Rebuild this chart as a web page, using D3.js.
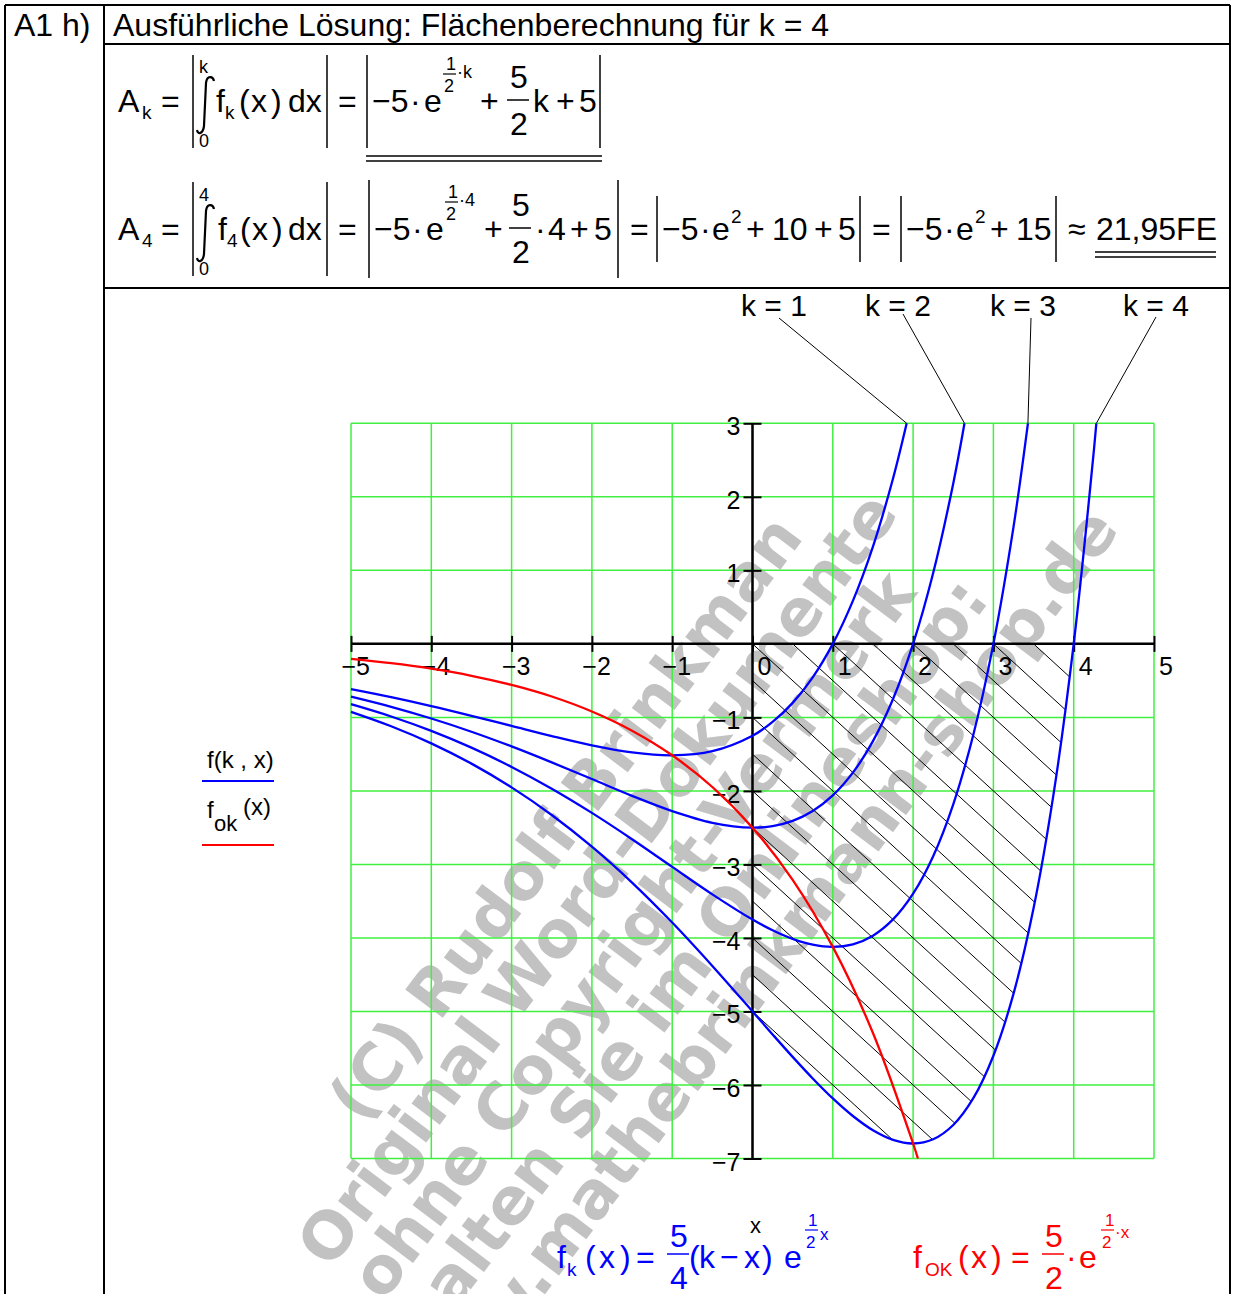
<!DOCTYPE html>
<html lang="de">
<head>
  <meta charset="UTF-8">
  <title>A1 h) Flächenberechnung für k = 4</title>
  <script src="https://d3js.org/d3.v7.min.js"></script>
  <style>
    body { margin: 0; background: #fff; }
    svg text { font-family: "Liberation Sans", Arial, sans-serif; }
  </style>
</head>
<body>
  <svg id="sheet" width="1234" height="1294"></svg>

  <script>
    // points [x, y], one list per curve
    const curveK1 = [[-5, -0.616], [-4.5, -0.725], [-4, -0.846], [-3.5, -0.978], [-3, -1.116], [-2.5, -1.254],
      [-2, -1.380], [-1.5, -1.476], [-1, -1.516], [-0.5, -1.460], [0, -1.25], [0.25, -1.062], [0.5, -0.803],
      [0.75, -0.455], [1, 0], [1.25, 0.584], [1.5, 1.323], [1.75, 2.249], [1.92, 3]];
    const curveK2 = [[-5, -0.718], [-4.5, -0.856], [-4, -1.015], [-3.5, -1.195], [-3, -1.395], [-2.5, -1.612],
      [-2, -1.839], [-1.5, -2.067], [-1, -2.275], [-0.5, -2.434], [0, -2.5], [0.25, -2.479], [0.5, -2.408],
      [0.75, -2.273], [1, -2.061], [1.25, -1.752], [1.5, -1.323], [1.75, -0.750], [2, 0], [2.25, 0.963],
      [2.5, 2.182], [2.64, 3]];
    const curveK3 = [[-5, -0.821], [-4.5, -0.988], [-4, -1.184], [-3.5, -1.412], [-3, -1.674], [-2.5, -1.970],
      [-2, -2.299], [-1.5, -2.657], [-1, -3.033], [-0.5, -3.407], [0, -3.75], [0.25, -3.895], [0.5, -4.013],
      [0.75, -4.092], [1, -4.122], [1.25, -4.087], [1.5, -3.969], [1.75, -3.748], [2, -3.398], [2.25, -2.888],
      [2.5, -2.182], [2.75, -1.236], [3, 0], [3.25, 1.587], [3.43, 3]];
    const curveK4 = [[-5, -0.924], [-4.5, -1.120], [-4, -1.353], [-3.5, -1.629], [-3, -1.952], [-2.5, -2.328],
      [-2, -2.759], [-1.5, -3.247], [-1, -3.791], [-0.5, -4.381], [0, -5], [0.25, -5.312], [0.5, -5.618],
      [0.75, -5.911], [1, -6.183], [1.25, -6.422], [1.5, -6.616], [1.75, -6.747], [2, -6.796], [2.25, -6.738],
      [2.5, -6.544], [2.75, -6.180], [3, -5.602], [3.25, -4.761], [3.5, -3.597], [3.75, -2.038], [4, 0],
      [4.25, 2.617], [4.282, 3]];
    const curveOK = [[-5, -0.205], [-4.5, -0.263], [-4, -0.338], [-3.5, -0.434], [-3, -0.558], [-2.5, -0.716],
      [-2, -0.920], [-1.5, -1.181], [-1, -1.516], [-0.5, -1.947], [0, -2.5], [0.5, -3.210], [1, -4.122],
      [1.5, -5.293], [2, -6.796], [2.06, -7]];

    // hatch lines x + y = s inside the area for k = 4
    const hatchSums = [3.5, 3, 2.5, 2, 1.5, 1, 0.5, 0, -0.5, -1, -1.5, -2, -2.5, -3, -3.5, -4, -4.5, -5];

    const xTicks = [-5, -4, -3, -2, -1, 0, 1, 2, 3, 4, 5];
    const yTicks = [3, 2, 1, 0, -1, -2, -3, -4, -5, -6, -7];
    const kNames = ['k = 1', 'k = 2', 'k = 3', 'k = 4'];
    const watermarkLines = ['(C) Rudolf Brinkman', 'Original Word-Dokumente', 'ohne Copyright-Vermerk',
      'erhalten Sie im Onlineshop:', 'www.mathebrinkmann-shop.de'];

    const svg = d3.select('svg#sheet');

    //scales of the plot
    const x = d3.scaleLinear().domain([-5, 5]).range([351, 1154]);
    const y = d3.scaleLinear().domain([-7, 3]).range([1158.5, 423.3]);

    //watermark sits behind everything
    const wm = svg.append('g').attr('id', 'watermark').attr('transform', 'rotate(-53)');
    const wmEnd = [55, 131, 79, 117, 251];
    const wmBase = [966, 1028, 1090, 1152, 1214];
    wm.selectAll('text').data(watermarkLines).join('text')
      .attr('x', (d, i) => wmEnd[i])
      .attr('y', (d, i) => wmBase[i])
      .attr('text-anchor', 'end')
      .style('font-family', '"DejaVu Sans", sans-serif')
      .style('font-weight', 'bold')
      .attr('font-size', 64.5)
      .attr('fill', '#c2c2c2')
      .text(d => d);

    //table frame
    const frame = svg.append('g').attr('id', 'frame').attr('stroke', '#000').attr('stroke-width', 2);
    frame.append('line').attr('x1', 5).attr('x2', 5).attr('y1', 5).attr('y2', 1294);
    frame.append('line').attr('x1', 1230).attr('x2', 1230).attr('y1', 5).attr('y2', 1294);
    frame.append('line').attr('x1', 5).attr('x2', 1230).attr('y1', 5).attr('y2', 5);
    frame.append('line').attr('x1', 104).attr('x2', 104).attr('y1', 5).attr('y2', 1294);
    frame.append('line').attr('x1', 104).attr('x2', 1230).attr('y1', 44).attr('y2', 44);
    frame.append('line').attr('x1', 104).attr('x2', 1230).attr('y1', 288).attr('y2', 288);

    svg.append('text').attr('x', 14).attr('y', 36).attr('font-size', 32).text('A1 h)');
    svg.append('text').attr('x', 113).attr('y', 36).attr('font-size', 32)
      .text('Ausführliche Lösung: Flächenberechnung für k = 4');

    //formula helpers
    function put(g, items, color) {
      g.selectAll(null).data(items).join('text')
        .attr('x', d => d[0]).attr('y', d => d[1])
        .attr('font-size', d => d[3] || 32)
        .attr('fill', color)
        .text(d => d[2]);
    }
    function rule(g, x1, y1, x2, y2, w, color) {
      g.append('line').attr('x1', x1).attr('y1', y1).attr('x2', x2).attr('y2', y2)
        .attr('stroke', color || '#000').attr('stroke-width', w || 1.5);
    }
    function integral(g, dy) {
      g.append('path')
        .attr('d', 'M214,' + (81 + dy) + ' C213,' + (76 + dy) + ' 207,' + (75 + dy) + ' 206,' + (83 + dy) +
          ' L204,' + (126 + dy) + ' C203,' + (134 + dy) + ' 198,' + (135 + dy) + ' 197,' + (130 + dy))
        .attr('fill', 'none').attr('stroke', '#000').attr('stroke-width', 2.2);
    }

    //A_k row
    const f1 = svg.append('g').attr('id', 'formula-k');
    put(f1, [[118, 112, 'A'], [142, 119, 'k', 19], [161, 112, '='], [199, 73, 'k', 18], [199, 147, '0', 18],
      [216, 112, 'f'], [225, 119, 'k', 19], [239, 112, '('], [251, 112, 'x'], [271, 112, ')'], [288, 112, 'dx'],
      [338, 112, '='], [372, 112, '−5'], [410, 112, '·'], [424, 112, 'e'],
      [446, 70, '1', 18], [444, 92, '2', 18], [457, 78, '·k', 18],
      [480, 112, '+'], [510, 88, '5'], [510, 135, '2'], [533, 112, 'k'], [556, 112, '+'], [579, 112, '5']], '#000');
    integral(f1, 0);
    rule(f1, 193, 55, 193, 148); rule(f1, 327, 55, 327, 148);
    rule(f1, 367, 55, 367, 148); rule(f1, 600, 55, 600, 148);
    rule(f1, 443, 74, 456, 74, 1.2); rule(f1, 507, 100, 529, 100);
    rule(f1, 366, 156, 602, 156); rule(f1, 366, 161, 602, 161);

    //A_4 row
    const f2 = svg.append('g').attr('id', 'formula-4');
    put(f2, [[118, 240, 'A'], [142, 247, '4', 19], [161, 240, '='], [199, 201, '4', 18], [199, 275, '0', 18],
      [218, 240, 'f'], [227, 247, '4', 19], [240, 240, '('], [252, 240, 'x'], [272, 240, ')'], [288, 240, 'dx'],
      [338, 240, '='], [374, 240, '−5'], [412, 240, '·'], [426, 240, 'e'],
      [448, 198, '1', 18], [446, 220, '2', 18], [459, 206, '·4', 18],
      [484, 240, '+'], [512, 216, '5'], [512, 263, '2'], [535, 240, '·'], [548, 240, '4'], [570, 240, '+'],
      [594, 240, '5'], [630, 240, '='],
      [662, 240, '−5'], [700, 240, '·'], [712, 240, 'e'], [731, 223, '2', 19], [746, 240, '+'], [772, 240, '10'],
      [814, 240, '+'], [838, 240, '5'], [872, 240, '='],
      [906, 240, '−5'], [944, 240, '·'], [956, 240, 'e'], [975, 223, '2', 19], [990, 240, '+'], [1016, 240, '15'],
      [1068, 240, '≈'], [1096, 240, '21,95FE']], '#000');
    integral(f2, 128);
    rule(f2, 193, 182, 193, 276); rule(f2, 327, 182, 327, 276);
    rule(f2, 369, 180, 369, 278); rule(f2, 618, 180, 618, 278);
    rule(f2, 657, 196, 657, 262); rule(f2, 860, 196, 860, 262);
    rule(f2, 901, 196, 901, 262); rule(f2, 1056, 196, 1056, 262);
    rule(f2, 445, 202, 458, 202, 1.2); rule(f2, 509, 228, 531, 228);
    rule(f2, 1095, 252, 1216, 252); rule(f2, 1095, 257, 1216, 257);

    //grid
    const grid = svg.append('g').attr('id', 'grid').attr('stroke', '#40f040').attr('stroke-width', 1.5);
    grid.selectAll('line.gx').data(xTicks).join('line').attr('class', 'gx')
      .attr('x1', d => x(d)).attr('x2', d => x(d)).attr('y1', y(3)).attr('y2', y(-7));
    grid.selectAll('line.gy').data(yTicks).join('line').attr('class', 'gy')
      .attr('y1', d => y(d)).attr('y2', d => y(d)).attr('x1', x(-5)).attr('x2', x(5));

    //hatch of the area for k = 4 between x = 0 and x = 4
    const areaPts = curveK4.filter(d => d[0] >= 0 && d[0] <= 4);
    svg.append('clipPath').attr('id', 'area4').append('path')
      .attr('d', d3.area().x(d => x(d[0])).y0(y(0)).y1(d => y(d[1])).curve(d3.curveCatmullRom)(areaPts));
    svg.append('g').attr('clip-path', 'url(#area4)')
      .selectAll('line').data(hatchSums).join('line')
      .attr('x1', x(-1)).attr('y1', s => y(s + 1))
      .attr('x2', x(6)).attr('y2', s => y(s - 6))
      .attr('stroke', '#000').attr('stroke-width', 1);

    //axes: ticks crossing the axis line
    const xAxis = svg.append('g').attr('transform', 'translate(0,' + (y(0) - 8) + ')')
      .call(d3.axisBottom(x).tickValues(xTicks).tickSize(16).tickFormat(''));
    const yAxis = svg.append('g').attr('transform', 'translate(' + (x(0) + 9) + ',0)')
      .call(d3.axisLeft(y).tickValues(yTicks.filter(d => d !== 0)).tickSize(18).tickFormat(''));
    xAxis.select('.domain').remove();
    yAxis.select('.domain').remove();
    svg.selectAll('.tick line').attr('stroke', '#000').attr('stroke-width', 2);
    svg.append('line').attr('x1', x(-5)).attr('x2', x(5)).attr('y1', y(0)).attr('y2', y(0))
      .attr('stroke', '#000').attr('stroke-width', 2.5);
    svg.append('line').attr('x1', x(0)).attr('x2', x(0)).attr('y1', y(3)).attr('y2', y(-7))
      .attr('stroke', '#000').attr('stroke-width', 2.5);

    const probe = svg.append('text').attr('font-size', 25).text('−');
    const minusW = probe.node().getComputedTextLength();
    probe.remove();
    const fmt = d => (d < 0 ? '−' : '') + Math.abs(d);
    svg.append('g').selectAll('text').data(xTicks).join('text')
      .attr('x', d => x(d) + 5 - (d < 0 ? minusW : 0))
      .attr('y', y(0) + 31)
      .attr('font-size', 25)
      .text(fmt);
    svg.append('g').selectAll('text').data(yTicks.filter(d => d !== 0)).join('text')
      .attr('x', x(0) - 12)
      .attr('y', d => y(d) + 12)
      .attr('text-anchor', 'end')
      .attr('font-size', 25)
      .text(fmt);

    //curves
    const line = d3.line().x(d => x(d[0])).y(d => y(d[1])).curve(d3.curveCatmullRom);
    const blues = [curveK1, curveK2, curveK3, curveK4];
    svg.append('g').selectAll('path').data(blues).join('path')
      .attr('d', line).attr('fill', 'none').attr('stroke', '#0000ff').attr('stroke-width', 2.3);
    svg.append('path').attr('d', line(curveOK))
      .attr('fill', 'none').attr('stroke', '#ff0000').attr('stroke-width', 2.3);

    //k labels with leader lines to the curve ends
    const kLabelX = [741, 865, 990, 1123];
    const kLeadFrom = [[779, 318], [903, 314], [1031, 318], [1156, 317]];
    svg.append('g').selectAll('text').data(kNames).join('text')
      .attr('x', (d, i) => kLabelX[i]).attr('y', 316)
      .attr('font-size', 30)
      .text(d => d);
    svg.append('g').selectAll('line').data(blues).join('line')
      .attr('x1', (d, i) => kLeadFrom[i][0]).attr('y1', (d, i) => kLeadFrom[i][1])
      .attr('x2', d => x(d[d.length - 1][0])).attr('y2', d => y(d[d.length - 1][1]))
      .attr('stroke', '#000').attr('stroke-width', 1);

    //legend
    const legend = svg.append('g').attr('id', 'legend');
    put(legend, [[207, 768, 'f(k , x)', 24], [207, 818, 'f', 24], [214, 831, 'ok', 22], [243, 815, '(x)', 24]], '#000');
    rule(legend, 202, 781, 274, 781, 2, '#0000ff');
    rule(legend, 202, 845, 274, 845, 2, '#ff0000');

    //function terms under the plot
    const fb = svg.append('g').attr('id', 'formula-blue');
    put(fb, [[557, 1268, 'f'], [567, 1276, 'k', 19], [585, 1268, '('], [599, 1268, 'x'], [620, 1268, ')'],
      [636, 1268, '='], [670, 1247, '5'], [670, 1289, '4'], [689, 1268, '('], [699, 1268, 'k'], [720, 1268, '−'],
      [744, 1268, 'x'], [762, 1268, ')'], [784, 1268, 'e'], [808, 1226, '1', 17], [806, 1248, '2', 17],
      [820, 1240, 'x', 17]], '#0000ff');
    rule(fb, 667, 1254, 689, 1254, 1.5, '#0000ff');
    rule(fb, 805, 1230, 818, 1230, 1.2, '#0000ff');
    put(fb, [[750, 1233, 'x', 22]], '#000');

    const fr = svg.append('g').attr('id', 'formula-red');
    put(fr, [[913, 1268, 'f'], [925, 1276, 'OK', 19], [958, 1268, '('], [971, 1268, 'x'], [991, 1268, ')'],
      [1011, 1268, '='], [1045, 1247, '5'], [1045, 1289, '2'], [1066, 1268, '·'], [1079, 1268, 'e'],
      [1105, 1226, '1', 17], [1102, 1248, '2', 17], [1115, 1238, '·x', 17]], '#ff0000');
    rule(fr, 1042, 1254, 1064, 1254, 1.5, '#ff0000');
    rule(fr, 1101, 1230, 1114, 1230, 1.2, '#ff0000');
  </script>
</body>
</html>
